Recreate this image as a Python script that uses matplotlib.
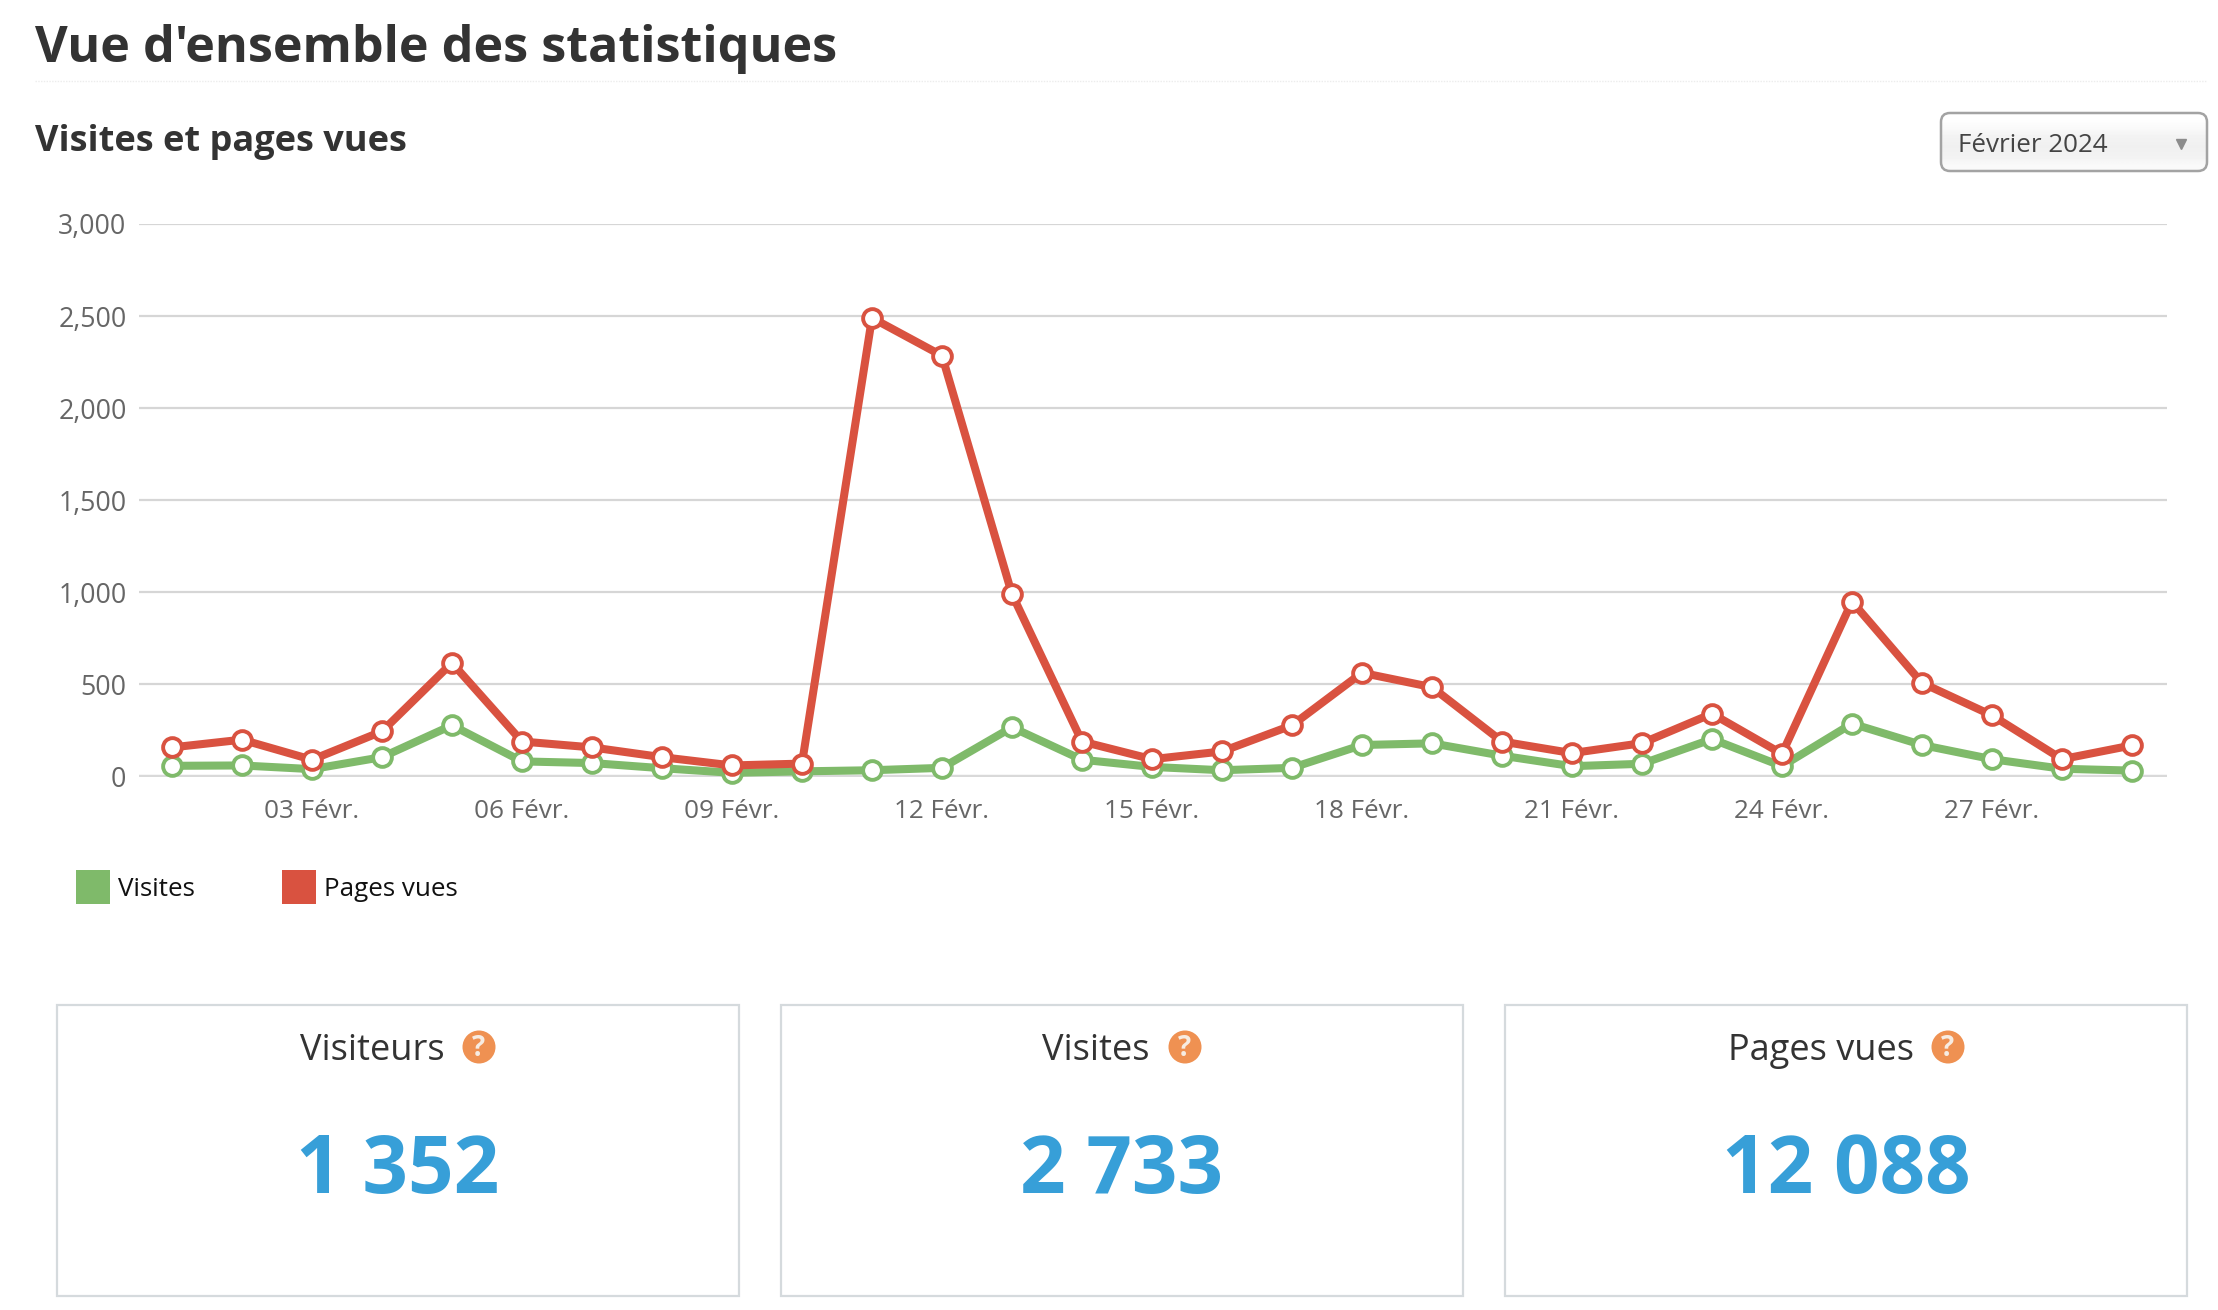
import numpy as np
import matplotlib
matplotlib.use("Agg")
import matplotlib.pyplot as plt
from matplotlib.patches import Rectangle, Circle, FancyBboxPatch

plt.rcParams['font.family'] = ['Open Sans', 'DejaVu Sans']

# values
days = np.arange(1, 30)
visites = [58, 60, 40, 105, 278, 82, 73, 45, 20, 28, 34, 47, 267, 91, 52, 34, 47,
           171, 180, 113, 56, 69, 203, 56, 287, 171, 94, 42, 32]
pages_vues = [158, 200, 91, 245, 617, 190, 158, 105, 60, 70, 2490, 2285, 990, 190, 94, 136, 278,
              563, 485, 190, 127, 181, 341, 123, 950, 508, 332, 94, 169]
y_ticks = [0, 500, 1000, 1500, 2000, 2500, 3000]
x_ticks = [3, 6, 9, 12, 15, 18, 21, 24, 27]
x_labels = ["03 Févr.", "06 Févr.", "09 Févr.", "12 Févr.", "15 Févr.", "18 Févr.",
            "21 Févr.", "24 Févr.", "27 Févr."]
stat_names = ["Visiteurs", "Visites", "Pages vues"]
stat_values = ["1 352", "2 733", "12 088"]

W, H = 2218, 1310
GREEN = "#7fba6a"
RED = "#d95240"
GREY = "#666666"
DARK = "#333333"

fig = plt.figure(figsize=(W / 100, H / 100), dpi=100, facecolor="white")

# page axes in pixel coordinates, for everything around the chart
page = fig.add_axes([0, 0, 1, 1])
page.set_xlim(0, W)
page.set_ylim(H, 0)
page.axis("off")

page.text(35, 49, "Vue d'ensemble des statistiques", fontsize=36.3, fontweight="bold", color=DARK, va="center")
page.plot([35, 2207], [81, 81], color="#ececec", lw=1, ls=(0, (1, 1)))
page.text(35, 142, "Visites et pages vues", fontsize=26, fontweight="bold", color=DARK, va="center")

# month selector
box = FancyBboxPatch((1941, 113), 266, 58, boxstyle="round,pad=0,rounding_size=9",
                     fc="none", ec="#a3a3a3", lw=1.8, zorder=3)
page.add_patch(box)
grad = np.array([[1.0], [0.98], [0.95], [0.94], [0.95], [0.98]])
im = page.imshow(grad, extent=(1941, 2207, 171, 113), cmap="gray", vmin=0, vmax=1,
                 aspect="auto", zorder=2, interpolation="bilinear")
im.set_clip_path(box)
page.set_xlim(0, W)
page.set_ylim(H, 0)
page.text(1958, 146, "Février 2024", fontsize=18.7, color="#444444", va="center", zorder=4)
page.plot([2181], [144], marker="v", ms=7, color="#8c8c8c", zorder=4)

# legend
for x, colour, name, tx in [(76, GREEN, "Visites", 118), (282, RED, "Pages vues", 324)]:
    page.add_patch(Rectangle((x, 870), 34, 34, fc=colour, ec="none"))
    page.text(tx, 890, name, fontsize=18.7, color="#111111", va="center")

# stat boxes
box_left = [57, 781, 1505]
label_left = [300, 1042, 1728]
help_x = [479, 1185, 1948]
for left, lx, hx, name, value in zip(box_left, label_left, help_x, stat_names, stat_values):
    page.add_patch(Rectangle((left, 1005), 682, 291, fc="white", ec="#d5dadd", lw=1.6))
    page.text(lx, 1051, name, fontsize=26, color=DARK, va="center")
    page.add_patch(Circle((hx, 1047), 16.5, fc="#ef9152", ec="none"))
    page.text(hx, 1048, "?", fontsize=20, fontweight="bold", color="#f7ece2", ha="center", va="center")
    page.text(left + 341, 1172, value, fontsize=57.5, fontweight="bold", color="#379fd8",
              ha="center", va="center")

# chart
ax = fig.add_axes([139 / W, 1 - 776.5 / H, (2167 - 139) / W, (776.5 - 224) / H])
ax.patch.set_alpha(0)
ax.set_xlim(0.529, 29.5)
ax.set_ylim(0, 3000)
for s in ax.spines.values():
    s.set_visible(False)
ax.grid(axis="y", color="#d6d6d6", lw=1.6, zorder=0)
ax.axhline(0, color="#d9d9d9", lw=3.2, zorder=1)
ax.set_axisbelow(True)
for values, colour, z in [(visites, GREEN, 3), (pages_vues, RED, 4)]:
    ax.plot(days, values, color=colour, lw=5.8, marker="o", ms=13.5, mfc="white", mec=colour, mew=2.8,
            zorder=z, clip_on=False, solid_joinstyle="round")
ax.set_yticks(y_ticks)
ax.set_yticklabels([f"{v:,}" for v in y_ticks])
ax.set_xticks(x_ticks)
ax.set_xticklabels(x_labels)
ax.tick_params(axis="both", length=0, labelsize=18.8, labelcolor=GREY)
ax.tick_params(axis="y", labelsize=19.3, pad=9)
ax.tick_params(axis="x", pad=16)

fig.savefig("out.png", dpi=100)
